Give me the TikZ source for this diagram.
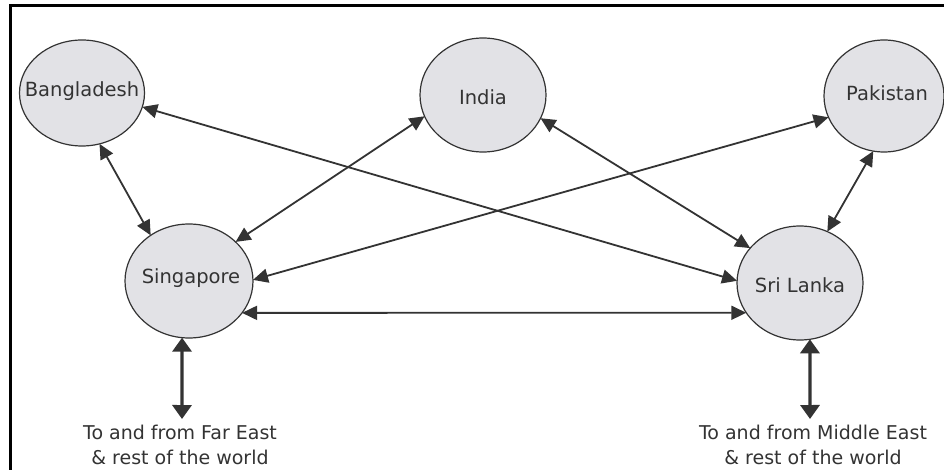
\documentclass[tikz,border=0pt]{standalone}
\usepackage{fontspec}
\setmainfont{DejaVu Sans}
\usetikzlibrary{shapes.geometric,arrows.meta}
\definecolor{ink}{HTML}{333333}
\definecolor{txt}{HTML}{333333}
\definecolor{bubble}{HTML}{E2E2E6}
\tikzset{
  country/.style={ellipse, draw=ink, line width=1.2pt, fill=bubble, inner sep=0pt, outer sep=0pt},
  cname/.style={text=txt, font=\fontsize{19.5}{23}\selectfont, inner sep=0pt},
  link/.style={draw=ink, line width=1.8pt, {Triangle[length=15pt,width=14pt]}-{Triangle[length=15pt,width=14pt]}},
  outlink/.style={draw=ink, line width=3.3pt, {Triangle[length=14pt,width=19pt]}-{Triangle[length=14pt,width=19pt]}},
  caption/.style={text=txt, font=\fontsize{19}{25}\selectfont, align=center, inner sep=0pt},
  frame/.style={draw=black, line width=3pt}
}
\begin{document}
\begin{tikzpicture}[x=1pt,y=-1pt]
\useasboundingbox (0,0) rectangle (944,470);
\fill[white] (0,0) rectangle (944,470);
% frame (top and left edges only)
\coordinate (f1) at (10,470);
\coordinate (f2) at (10,6);
\coordinate (f3) at (944,6);
\draw[frame] (f1) -- (f2) -- (f3);
% countries
\node[country, minimum width=125pt, minimum height=106pt] (bang) at (82,93) {};
\node[country, minimum width=126pt, minimum height=114pt] (india) at (483,95) {};
\node[country, minimum width=120pt, minimum height=112pt] (pak) at (884,96) {};
\node[country, minimum width=128pt, minimum height=114pt] (sing) at (189,281) {};
\node[country, minimum width=126pt, minimum height=114pt] (sri) at (800,283) {};
\node[cname] (bangt) at (82,91) {Bangladesh};
\node[cname] (indiat) at (483,97) {India};
\node[cname] (pakt) at (887,93) {Pakistan};
\node[cname] (singt) at (191,278) {Singapore};
\node[cname] (srit) at (800,285) {Sri Lanka};
% connections
\draw[link] (bang.-71) -- (sing.130);
\draw[link] (bang.-13) -- (sri.178);
\draw[link] (india.200) -- (sing.40);
\draw[link] (india.-22) -- (sri.145);
\draw[link] (pak.201) -- (sing.1);
\draw[link] (pak.259) -- (sri.62);
\draw[link] (sing.-31) -- (sri.209);
% outside links
\coordinate (fe) at (182,419);
\coordinate (me) at (810,419);
\draw[outlink] (sing.-97) -- (fe);
\draw[outlink] (sri.-80) -- (me);
\node[caption] (fetext) at (180,445) {To and from Far East\\\& rest of the world};
\node[caption] (metext) at (813,445) {To and from Middle East\\\& rest of the world};
\end{tikzpicture}
\end{document}
